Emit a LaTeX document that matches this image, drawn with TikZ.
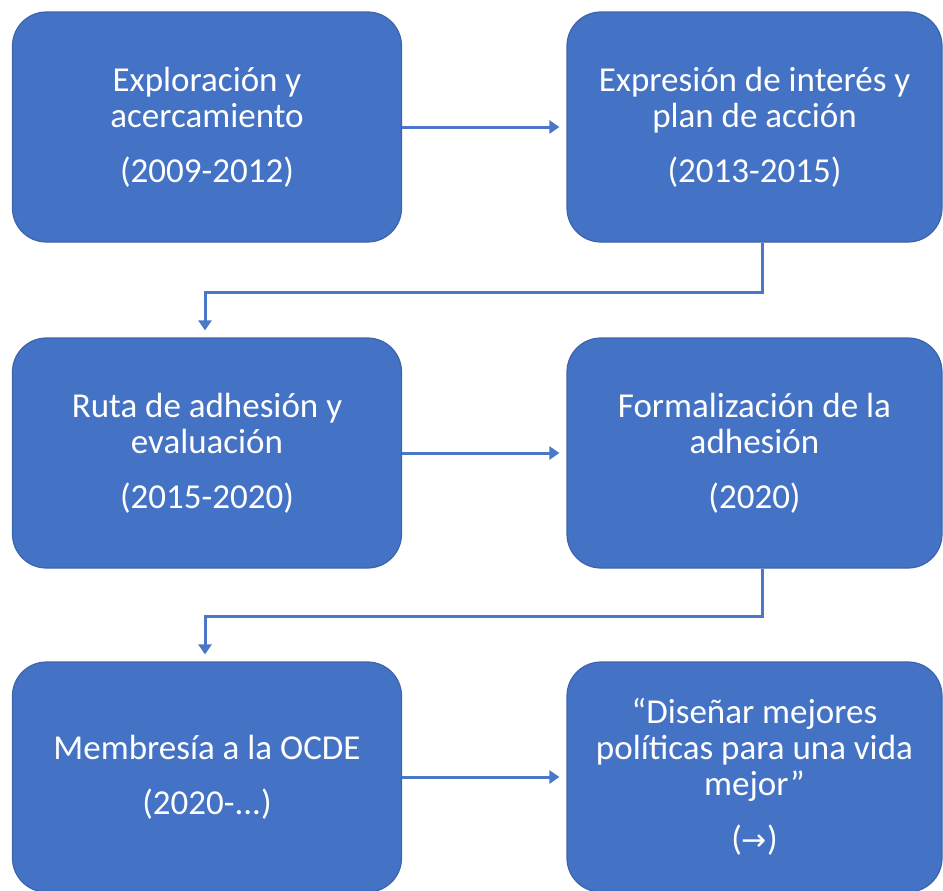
\documentclass[tikz,border=0pt]{standalone}
\usepackage{fontspec}
\setmainfont{Carlito}
\newfontfamily\symfont{DejaVu Sans}
\usetikzlibrary{arrows.meta}

\definecolor{boxblue}{HTML}{4472C4}
\definecolor{lineblue}{HTML}{4A77C8}

\begin{document}
\begin{tikzpicture}[x=0.5pt, y=-0.5pt, every node/.style={font=\fontsize{17.5}{18}\selectfont}]

		% Fix the frame of the picture
		\useasboundingbox (0,0) rectangle (943,890);
		\clip (0,0) rectangle (943,890);

		% Define styles for the stage boxes and the connectors
		\tikzset{
			stagebox/.style={rectangle, rounded corners=17pt, fill=boxblue, draw=boxblue!88!black, line width=0.6pt, text=white, align=center, inner sep=0pt, minimum height=115pt},
			leftbox/.style={stagebox, minimum width=194.5pt},
			rightbox/.style={stagebox, minimum width=187.5pt},
			conn/.style={draw=lineblue, line width=1.5pt, -{Triangle[width=6.5pt,length=5pt]}, shorten >=3.5pt}
		};

		% Row 1: 2009-2012 and 2013-2015
		\node[leftbox] (explora) at (207,127) {Exploración y\\acercamiento\\[9.5pt](2009-2012)};
		\node[rightbox] (expresion) at (754.5,127) {Expresión de interés y\\plan de acción\\[9.5pt](2013-2015)};

		% Row 2: 2015-2020 and 2020
		\node[leftbox] (ruta) at (207,453) {Ruta de adhesión y\\evaluación\\[9.5pt](2015-2020)};
		\node[rightbox] (formal) at (754.5,453) {Formalización de la\\adhesión\\[9.5pt](2020)};

		% Row 3: membership and motto
		\node[leftbox] (membresia) at (207,777) {Membresía a la OCDE\\[9.5pt](2020-...)};
		\node[rightbox] (disenar) at (754.5,777) {“Diseñar mejores\\políticas para una vida\\mejor”\\[9.5pt]({\symfont\fontsize{15}{18}\selectfont →})};

		% Horizontal arrows within each row
		\draw[conn] (explora.east) -- (expresion.west);
		\draw[conn] (ruta.east) -- (formal.west);
		\draw[conn] (membresia.east) -- (disenar.west);

		% Elbow arrows from one row to the next
		\draw[conn] ([xshift=3.75pt]expresion.south) -- ++(0,50) -| ([xshift=-1pt]ruta.north);
		\draw[conn] ([xshift=3.75pt]formal.south) -- ++(0,48) -| ([xshift=-1pt]membresia.north);
	\end{tikzpicture}
\end{document}
